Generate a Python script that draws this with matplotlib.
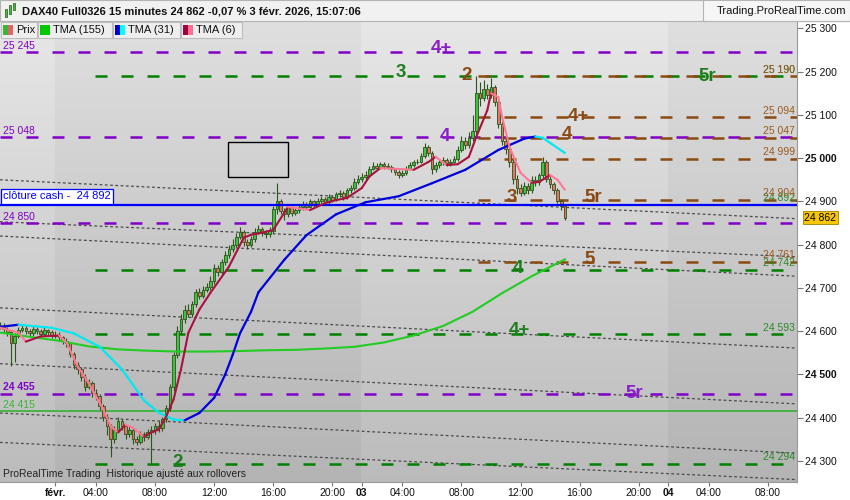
import numpy as np
import matplotlib
matplotlib.use("Agg")
import matplotlib.pyplot as plt
from matplotlib.patches import Rectangle
from matplotlib.collections import LineCollection
from matplotlib.transforms import blended_transform_factory

plt.rcParams['font.family'] = ['Liberation Sans', 'DejaVu Sans']

# ---- données (DAX40, bougies 15 min) ----
first_open = 24615
closes = [24612, 24604, 24598, 24572, 24590, 24602, 24608, 24600, 24596, 24606,
          24600, 24594, 24603, 24598, 24590, 24592, 24586, 24578, 24572, 24548,
          24522, 24512, 24494, 24472, 24480, 24458, 24450, 24428, 24402, 24380,
          24350, 24372, 24392, 24380, 24362, 24372, 24352, 24345, 24362, 24355,
          24366, 24372, 24380, 24376, 24396, 24422, 24470, 24545, 24600, 24628,
          24648, 24640, 24662, 24690, 24682, 24696, 24702, 24716, 24745, 24736,
          24760, 24776, 24790, 24800, 24818, 24830, 24806, 24800, 24812, 24830,
          24836, 24828, 24824, 24832, 24882, 24900, 24878, 24870, 24886, 24874,
          24880, 24886, 24894, 24888, 24900, 24894, 24902, 24906, 24898, 24910,
          24904, 24916, 24920, 24910, 24926, 24932, 24946, 24952, 24956, 24962,
          24976, 24982, 24978, 24986, 24982, 24980, 24974, 24968, 24960, 24966,
          24976, 24984, 24990, 24992, 25006, 25026, 25012, 24974, 24984, 24990,
          24996, 24988, 24992, 24998, 25020, 25040, 25030, 25046, 25062, 25150,
          25140, 25160, 25146, 25165, 25130, 25080, 25040, 25022, 24990, 24952,
          24930, 24920, 24936, 24926, 24950, 24944, 24960, 24992, 24952, 24940,
          24926, 24902, 24890, 24862]
highs = [24622, 24618, 24610, 24602, 24596, 24610, 24616, 24614, 24606, 24612,
         24610, 24604, 24610, 24606, 24602, 24600, 24598, 24590, 24584, 24576,
         24552, 24530, 24518, 24500, 24490, 24484, 24466, 24456, 24432, 24408,
         24386, 24380, 24402, 24398, 24384, 24380, 24376, 24358, 24370, 24368,
         24374, 24380, 24388, 24392, 24402, 24430, 24478, 24552, 24612, 24640,
         24660, 24664, 24670, 24698, 24700, 24704, 24712, 24728, 24756, 24752,
         24768, 24786, 24800, 24812, 24826, 24840, 24834, 24812, 24820, 24838,
         24846, 24842, 24834, 24840, 24890, 24942, 24906, 24884, 24894, 24890,
         24888, 24892, 24900, 24898, 24906, 24904, 24908, 24912, 24910, 24916,
         24914, 24922, 24926, 24924, 24932, 24938, 24954, 24960, 24966, 24970,
         24982, 24990, 24988, 24992, 24990, 24988, 24984, 24978, 24972, 24972,
         24982, 24990, 24996, 24998, 25012, 25036, 25030, 25016, 24990, 24996,
         25002, 25000, 24998, 25004, 25028, 25052, 25048, 25060, 25100, 25190,
         25176, 25180, 25172, 25185, 25170, 25136, 25086, 25050, 25030, 24996,
         24960, 24940, 24944, 24942, 24958, 24958, 24966, 25002, 24996, 24958,
         24946, 24930, 24906, 24894]
lows = [24605, 24598, 24590, 24520, 24530, 24585, 24598, 24594, 24588, 24590,
        24594, 24586, 24590, 24592, 24584, 24584, 24578, 24570, 24564, 24540,
        24512, 24500, 24486, 24462, 24466, 24448, 24440, 24418, 24392, 24360,
        24310, 24342, 24366, 24372, 24352, 24356, 24340, 24336, 24340, 24346,
        24350, 24296, 24362, 24368, 24370, 24390, 24416, 24462, 24538, 24594,
        24620, 24632, 24634, 24656, 24674, 24676, 24690, 24696, 24710, 24728,
        24730, 24754, 24770, 24784, 24794, 24812, 24798, 24790, 24794, 24806,
        24824, 24820, 24816, 24818, 24826, 24872, 24870, 24858, 24864, 24866,
        24868, 24874, 24880, 24882, 24884, 24888, 24890, 24896, 24892, 24894,
        24898, 24900, 24910, 24904, 24906, 24920, 24926, 24940, 24944, 24950,
        24958, 24972, 24972, 24974, 24976, 24974, 24968, 24960, 24954, 24956,
        24962, 24972, 24980, 24986, 24988, 25000, 25004, 24964, 24968, 24978,
        24984, 24982, 24982, 24988, 24994, 25014, 25022, 25024, 25040, 25056,
        25120, 25132, 25136, 25140, 25120, 25070, 25030, 25010, 24980, 24940,
        24918, 24912, 24914, 24918, 24920, 24936, 24938, 24954, 24944, 24932,
        24918, 24896, 24880, 24858]

tma155_bars = [0, 8, 16, 24, 32, 40, 48, 56, 64, 72, 80, 88, 96, 104, 112, 120, 128, 136, 144, 153]
tma155_vals = [24597, 24587, 24578, 24565, 24558, 24555, 24553, 24553, 24554, 24556,
               24557, 24560, 24564, 24574, 24590, 24612, 24645, 24688, 24727, 24766]

tma31_bars = [0, 5, 14, 20, 27, 33, 39, 43, 47, 50, 54, 58, 61, 63, 65, 68, 70, 77,
              83, 91, 99, 108, 117, 126, 135, 142, 145, 147, 153]
tma31_vals = [24610, 24615, 24608, 24595, 24564, 24512, 24440, 24412, 24396, 24394,
              24411, 24446, 24500, 24545, 24595, 24645, 24690, 24765, 24822, 24870,
              24898, 24912, 24942, 24973, 25019, 25045, 25050, 25047, 25012]

tma6_bars = [0, 5, 7, 11, 16, 18, 21, 24, 26, 28, 30, 32, 34, 36, 39, 41, 43, 45, 47,
             49, 51, 54, 57, 62, 66, 68, 70, 74, 78, 80, 84, 88, 91, 94, 98, 100, 103,
             108, 112, 116, 118, 121, 124, 127, 129, 132, 133, 135, 136, 138, 141, 144,
             146, 149, 151, 153]
tma6_vals = [24608, 24597, 24576, 24588, 24590, 24574, 24519, 24481, 24449, 24419,
             24380, 24366, 24384, 24377, 24356, 24366, 24373, 24403, 24442, 24511,
             24596, 24650, 24689, 24749, 24816, 24823, 24826, 24834, 24887, 24885,
             24880, 24896, 24903, 24908, 24931, 24957, 24977, 24975, 24973, 24991,
             25003, 24984, 24986, 25003, 25049, 25111, 25150, 25141, 25095, 25026,
             24966, 24943, 24945, 24961, 24950, 24927]

purple_levels = [25245, 25048, 24850, 24455]
green_levels = [25190, 24742, 24593, 24294]
brown_levels = [25190, 25094, 25047, 24999, 24904, 24761]
cash_close = 24892
green_line = 24415
last_price = 24862

channel_start = [24950, 24853, 24820, 24654, 24525, 24411, 24343]
channel_end = [24860, 24772, 24727, 24561, 24432, 24318, 24257]

time_ticks = [15, 26, 42, 58, 74, 90, 98, 109, 125, 141, 157, 173, 181, 192, 208]
time_labels = ['févr.', '04:00', '08:00', '12:00', '16:00', '20:00', '03', '04:00',
               '08:00', '12:00', '16:00', '20:00', '04', '04:00', '08:00']
price_ticks = list(range(24300, 25301, 100))

# ---- mise en page (pixels) ----
W, H = 850, 500
PX_BAR = 3.692
XMAX = 797 / PX_BAR
YLO, YHI = 24251.5, 25317

PURPLE = '#8000c8'
GREEN = '#008000'
BROWN = '#8b4a10'

fig = plt.figure(figsize=(W / 100, H / 100), dpi=100, facecolor='white')
ax = fig.add_axes([0, 1 - 482 / H, 797 / W, (482 - 21) / H])


def fmt(v):
    return f"{v:,}".replace(',', ' ')


# fond en bandes avec dégradé vertical
grad = np.linspace(0, 1, 200).reshape(-1, 1)
regions = [(0, 14.8, 'light'), (14.8, 97.8, 'dark'), (97.8, 180.8, 'light'), (180.8, XMAX, 'dark')]
shades = {'light': (0.905, 0.735), 'dark': (0.875, 0.705)}
for x0, x1, kind in regions:
    top, bot = shades[kind]
    g = top + (bot - top) * grad
    img = np.dstack([g, g, g])
    ax.imshow(img, extent=(x0, x1, YLO, YHI), aspect='auto', origin='upper',
              interpolation='bilinear', zorder=0)

# canaux pointillés
for s, e in zip(channel_start, channel_end):
    ax.plot([0, XMAX], [s, e], color='#4a4a4a', lw=0.9, dashes=(2.2, 2.0), zorder=2)

# niveaux horizontaux
for lv in purple_levels:
    ax.plot([0, XMAX], [lv, lv], color=PURPLE, lw=1.8, dashes=(4.8, 5.6), zorder=3)
for lv in green_levels:
    ax.plot([95 / PX_BAR, XMAX], [lv, lv], color=GREEN, lw=1.8, dashes=(4.8, 5.6), zorder=3)
for lv in brown_levels:
    ax.plot([478 / PX_BAR, XMAX], [lv, lv], color=BROWN, lw=1.8, dashes=(4.8, 5.6), zorder=3)
ax.plot([0, XMAX], [green_line, green_line], color='#3cb43c', lw=1.3, zorder=3)

# bougies
x = np.arange(len(closes))
c = np.array(closes)
o = np.array([first_open] + closes[:-1])
up = c >= o
ax.vlines(x, lows, highs, color='#2a5418', lw=0.8, zorder=4)
ax.bar(x, np.maximum(np.abs(c - o), 1.5), bottom=np.minimum(o, c), width=0.72,
       color=np.where(up, '#3fc23f', '#e57368'), edgecolor='#2a5418', linewidth=0.6, zorder=4)

ax.plot([0, XMAX], [cash_close, cash_close], color='#0000ff', lw=1.6, zorder=5)


def ma_line(bars, vals, up_col, down_col, lw):
    pts = np.column_stack([bars, vals])
    segs = np.stack([pts[:-1], pts[1:]], axis=1)
    cols = [up_col if b >= a else down_col for a, b in zip(vals[:-1], vals[1:])]
    ax.add_collection(LineCollection(segs, colors=cols, linewidths=lw, zorder=5,
                                     capstyle='round', joinstyle='round'))


ax.plot(tma155_bars, tma155_vals, color='#22cc22', lw=1.5, zorder=5)
ma_line(tma31_bars, tma31_vals, '#0000dd', '#00e8f0', 1.6)
ma_line(tma6_bars, tma6_vals, '#a8123c', '#ff7896', 1.5)

# rectangle dessiné
ax.add_patch(Rectangle((228 / PX_BAR, 24957), 60 / PX_BAR, 80, fill=False,
                       edgecolor='black', lw=1.0, zorder=6))

# étiquettes des niveaux
for lv, txt in [(25245, '25 245'), (25048, '25 048'), (24850, '24 850')]:
    ax.annotate(txt, (0, lv), xytext=(2, 1), textcoords='offset points',
                ha='left', va='bottom', color=PURPLE, fontsize=7.5, zorder=7)
ax.annotate('24 455', (0, 24455), xytext=(2, 1.5), textcoords='offset points',
            ha='left', va='bottom', color=PURPLE, fontsize=7.5, fontweight='bold', zorder=7)
ax.annotate('24 415', (0, green_line), xytext=(2, 1), textcoords='offset points',
            ha='left', va='bottom', color='#3cb43c', fontsize=7.5, zorder=7)
ax.annotate('clôture cash -  ' + fmt(cash_close), (0, cash_close), xytext=(2, 2.5),
            textcoords='offset points', ha='left', va='bottom', color='#0000ff',
            fontsize=8, zorder=7,
            bbox=dict(boxstyle='square,pad=0.2', fc='white', ec='#0000ff', lw=0.9))

for lv in green_levels + [cash_close]:
    ax.annotate(fmt(lv), (XMAX, lv), xytext=(-1.5, 1), textcoords='offset points',
                ha='right', va='bottom', color='#2a8a2a', fontsize=7.5, zorder=7)
for lv in brown_levels:
    ax.annotate(fmt(lv), (XMAX, lv), xytext=(-1.5, 1), textcoords='offset points',
                ha='right', va='bottom', color='#9a5a20', fontsize=7.5, zorder=7)

# grandes étiquettes (Elliott)
big = [('4+', 441, 25254, '#8a1ec8'), ('3', 401, 25199, '#1e7d1e'), ('2', 467, 25192, '#8b4a14'),
       ('5r', 707, 25188, '#1e7d1e'), ('4+', 578, 25097, '#8b4a14'), ('4', 445, 25051, '#8a1ec8'),
       ('4', 567, 25054, '#8b4a14'), ('3', 512, 24908, '#8b4a14'), ('5r', 593, 24908, '#8b4a14'),
       ('5', 590, 24765, '#8b4a14'), ('4', 518, 24744, '#1e7d1e'), ('4+', 519, 24601, '#1e7d1e'),
       ('5r', 634, 24455, '#8a1ec8'), ('2', 178, 24296, '#1e7d1e')]
for txt, px, py, col in big:
    ax.text(px / PX_BAR, py, txt, ha='center', va='center', fontsize=13.5,
            fontweight='bold', color=col, zorder=8)

ax.text(3 / 797, 3 / 461, 'ProRealTime Trading  Historique ajusté aux rollovers',
        transform=ax.transAxes, ha='left', va='bottom', fontsize=7.5, color='#222222', zorder=8)

# axes
ax.set_xlim(0, XMAX)
ax.set_ylim(YLO, YHI)
ax.yaxis.tick_right()
ax.set_yticks(price_ticks)
ax.set_yticklabels([fmt(v) for v in price_ticks])
for lab, v in zip(ax.get_yticklabels(), price_ticks):
    if v in (25000, 24500):
        lab.set_fontweight('bold')
ax.set_xticks(time_ticks)
ax.set_xticklabels(time_labels)
for lab, t in zip(ax.get_xticklabels(), time_labels):
    if t in ('févr.', '03', '04'):
        lab.set_fontweight('bold')
ax.tick_params(axis='y', direction='out', length=4, width=0.8, color='#777777',
               labelsize=7.5, pad=2, labelcolor='#111111')
ax.tick_params(axis='x', direction='out', length=3, width=0.8, color='#777777',
               labelsize=7.5, pad=1.5, labelcolor='#111111')
for side in ('top', 'left'):
    ax.spines[side].set_visible(False)
for side in ('right', 'bottom'):
    ax.spines[side].set_color('#999999')
    ax.spines[side].set_linewidth(0.8)

# prix courant
bt = blended_transform_factory(ax.transAxes, ax.transData)
ax.text(1.009, last_price, fmt(last_price), transform=bt, ha='left', va='center',
        fontsize=7.5, color='black', zorder=9, clip_on=False,
        bbox=dict(boxstyle='square,pad=0.15', fc='#f7c600', ec='#a08000', lw=0.6))


# bandeau titre et légende (coordonnées pixels de la figure)
def fig_rect(x0, y0, x1, y1, **kw):
    fig.patches.append(Rectangle((x0 / W, 1 - y1 / H), (x1 - x0) / W, (y1 - y0) / H,
                                 transform=fig.transFigure, **kw))


fig_rect(0, 0, 850, 21, fc='#f1f1f1', ec='#b4b4b4', lw=0.8)
fig_rect(703, 0, 850, 21, fc='#f6f6f6', ec='#b4b4b4', lw=0.8)
for cx, y0, y1 in [(6, 9, 17), (10, 5, 14), (14, 3, 10)]:
    fig_rect(cx - 1.2, y0, cx + 1.2, y1, fc='#3fc23f', ec='#2a5418', lw=0.5)
fig.text(22 / W, 1 - 11 / H, 'DAX40 Full0326 15 minutes 24 862 -0,07 % 3 févr. 2026, 15:07:06',
         ha='left', va='center', fontsize=8, fontweight='bold', color='#111111')
fig.text(846 / W, 1 - 11 / H, 'Trading.ProRealTime.com', ha='right', va='center',
         fontsize=8, color='#111111')

legend = [('Prix', 1, 37, ('#3cb43c', '#e06666')),
          ('TMA (155)', 38, 112, ('#00c800', '#00c800')),
          ('TMA (31)', 113, 180, ('#0000cc', '#00ffff')),
          ('TMA (6)', 181, 242, ('#a0003c', '#ff6e8c'))]
for txt, x0, x1, (c1, c2) in legend:
    fig_rect(x0, 22, x1, 38, fc='#eeeeee', ec='#bdbdbd', lw=0.8)
    fig_rect(x0 + 2, 25, x0 + 7, 35, fc=c1, ec='none')
    fig_rect(x0 + 7, 25, x0 + 12, 35, fc=c2, ec='none')
    fig.text((x0 + 15) / W, 1 - 30 / H, txt, ha='left', va='center', fontsize=8, color='#111111')

fig.savefig('out.png', dpi=100, facecolor='white')
